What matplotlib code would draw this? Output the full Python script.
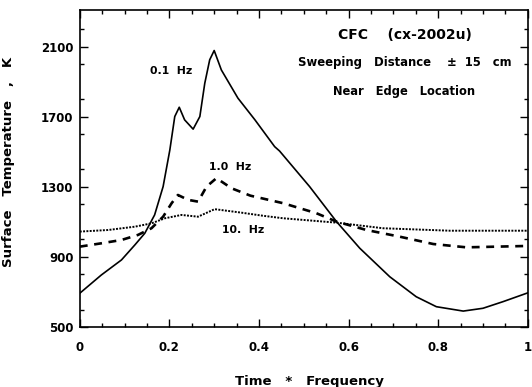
import matplotlib
matplotlib.use("Agg")
import matplotlib.pyplot as plt
from matplotlib.ticker import MultipleLocator

plt.rcParams['font.family'] = ['DejaVu Sans']

x_01 = [0.0, 0.048, 0.093, 0.123, 0.145, 0.167, 0.186, 0.201, 0.212, 0.222, 0.234, 0.253, 0.268, 0.279,
        0.290, 0.300, 0.316, 0.353, 0.391, 0.435, 0.446, 0.513, 0.573, 0.625, 0.692, 0.751, 0.796, 0.856,
        0.900, 0.945, 1.0]
t_01 = [693, 797, 883, 969, 1035, 1140, 1302, 1511, 1702, 1755, 1683, 1630, 1702, 1892,
        2026, 2079, 1968, 1807, 1683, 1530, 1505, 1302, 1102, 950, 787, 673, 616, 591,
        607, 645, 695]

x_1 = [0.0, 0.048, 0.093, 0.130, 0.160, 0.186, 0.205, 0.219, 0.242, 0.264, 0.283, 0.305, 0.339, 0.381,
       0.454, 0.528, 0.573, 0.640, 0.714, 0.789, 0.863, 1.0]
t_1 = [959, 978, 997, 1026, 1064, 1130, 1207, 1254, 1226, 1216, 1302, 1350, 1292, 1250,
       1207, 1150, 1102, 1054, 1016, 974, 955, 963]

x_10 = [0.0, 0.063, 0.123, 0.160, 0.190, 0.227, 0.264, 0.301, 0.361, 0.410, 0.454, 0.573, 0.677, 0.826, 1.0]
t_10 = [1045, 1054, 1073, 1092, 1121, 1140, 1130, 1173, 1153, 1135, 1121, 1096, 1064, 1050, 1050]

xticks = [0, 0.2, 0.4, 0.6, 0.8, 1.0]
xtick_labels = ['0', '0.2', '0.4', '0.6', '0.8', '1']
yticks = [500, 900, 1300, 1700, 2100]
ytick_labels = ['500', '900', '1300', '1700', '2100']

fig = plt.figure(figsize=(5.32, 3.87), dpi=100)
ax = fig.add_axes([0.150, 0.155, 0.842, 0.819])

ax.plot(x_01, t_01, color='black', lw=1.2, ls='-')
ax.plot(x_1, t_1, color='black', lw=1.9, ls=(0, (3, 2.5)))
ax.plot(x_10, t_10, color='black', lw=1.4, ls=(0, (1, 0.7)))

ax.set_xlim(0, 1)
ax.set_ylim(500, 2310)
ax.set_xticks(xticks)
ax.set_xticklabels(xtick_labels)
ax.set_yticks(yticks)
ax.set_yticklabels(ytick_labels)
ax.xaxis.set_minor_locator(MultipleLocator(0.05))
ax.yaxis.set_minor_locator(MultipleLocator(200))
ax.tick_params(which='both', direction='in', top=True, right=True, width=1.0, color='black')
ax.tick_params(which='major', length=6, labelsize=8.5)
ax.tick_params(axis='x', which='major', pad=10)
ax.tick_params(axis='y', which='major', pad=4.5)
ax.tick_params(which='minor', length=3)
for lab in ax.get_xticklabels() + ax.get_yticklabels():
    lab.set_fontweight('bold')
for s in ax.spines.values():
    s.set_linewidth(1.2)

ax.set_xlabel('Time   *   Frequency', fontsize=9.5, fontweight='bold')
ax.set_ylabel('Surface   Temperature   ,   K', fontsize=9.5, fontweight='bold')
ax.xaxis.set_label_coords(0.513, -0.151)
ax.yaxis.set_label_coords(-0.145, 0.52)

ax.text(0.725, 0.922, 'CFC    (cx-2002u)', transform=ax.transAxes, ha='center', va='center', fontsize=10, fontweight='bold')
ax.text(0.725, 0.836, 'Sweeping   Distance    ±  15   cm', transform=ax.transAxes, ha='center', va='center', fontsize=8.4, fontweight='bold')
ax.text(0.725, 0.742, 'Near   Edge   Location', transform=ax.transAxes, ha='center', va='center', fontsize=8.3, fontweight='bold')
ax.text(0.204, 0.808, '0.1  Hz', transform=ax.transAxes, ha='center', va='center', fontsize=7.8, fontweight='bold')
ax.text(0.335, 0.505, '1.0  Hz', transform=ax.transAxes, ha='center', va='center', fontsize=7.8, fontweight='bold')
ax.text(0.365, 0.306, '10.  Hz', transform=ax.transAxes, ha='center', va='center', fontsize=7.8, fontweight='bold')

fig.savefig('out.png', dpi=100)
